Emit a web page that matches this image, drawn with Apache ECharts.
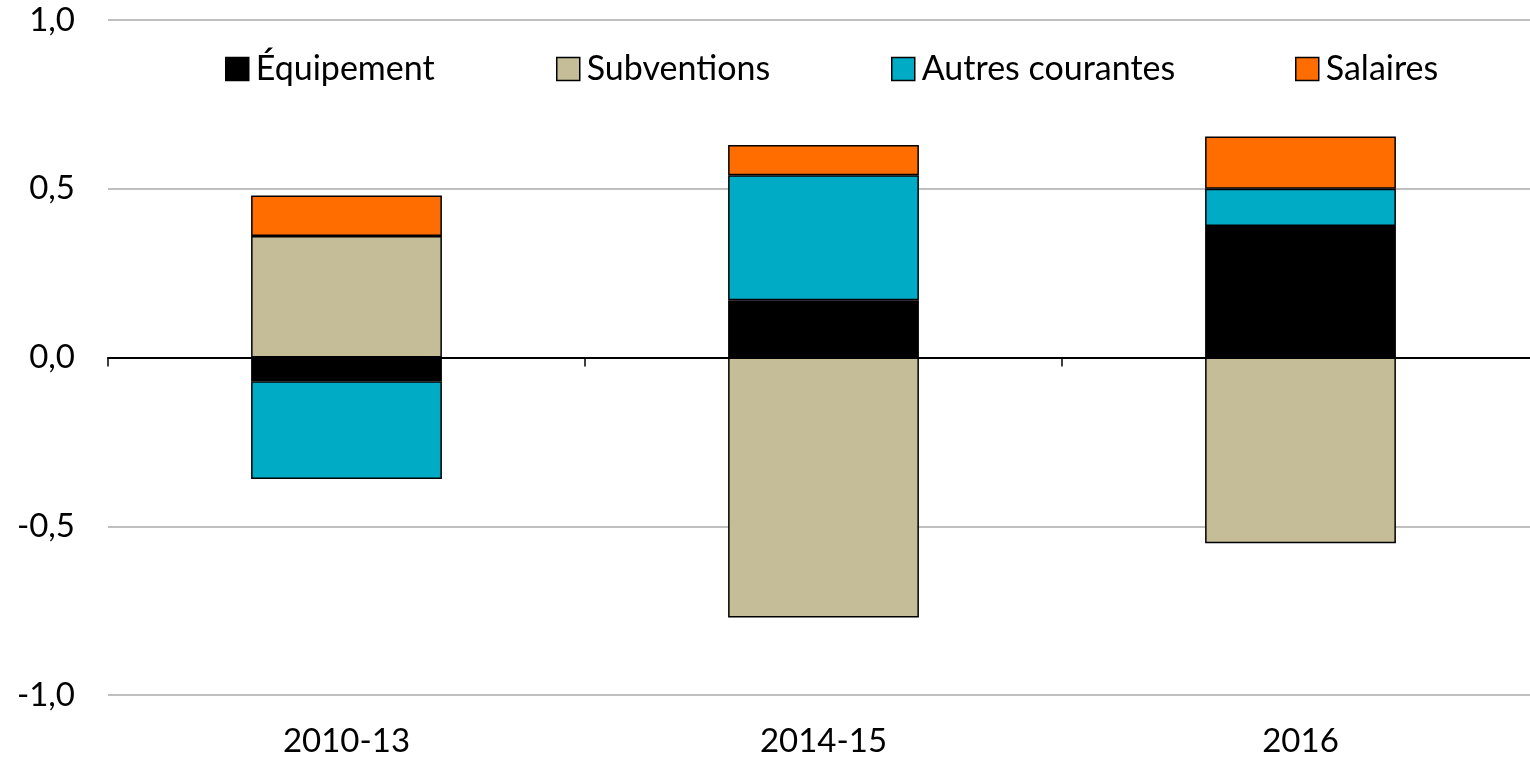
<!DOCTYPE html>
<html>
<head>
<meta charset="utf-8">
<script src="https://cdn.jsdelivr.net/npm/echarts@6/dist/echarts.min.js"></script>
<style>
  html, body { margin: 0; padding: 0; background: #fff; }
  #chart { width: 1530px; height: 762px; }
</style>
</head>
<body>
<div id="chart"></div>
<script>
// categories et valeurs
const categories = ['2010-13', '2014-15', '2016'];
const equipement = [-0.07, 0.17, 0.39];
const subventions = [0.36, -0.77, -0.55];
const autresCourantes = [-0.29, 0.37, 0.11];
const salaires = [0.12, 0.09, 0.155];
const yTicks = [-1, -0.5, 0, 0.5, 1];

const FONT = 'Lato';
const chart = echarts.init(document.getElementById('chart'));

function bar(name, data, color) {
  return {
    name, type: 'bar', stack: 'total', data,
    barWidth: '40%',
    itemStyle: { color, borderColor: '#000', borderWidth: 1.5 }
  };
}

function legendAt(name, left) {
  return {
    data: [name], left, top: 47,
    icon: 'rect', itemWidth: 23, itemHeight: 23, itemGap: 0,
    textStyle: { fontFamily: FONT, fontSize: 34, color: '#000', padding: [0, 0, 0, 2] },
    itemStyle: { borderColor: '#000', borderWidth: 1.5 }
  };
}

chart.setOption({
  animation: false,
  legend: [
    legendAt('Équipement', 220),
    legendAt('Subventions', 551),
    legendAt('Autres courantes', 886),
    legendAt('Salaires', 1290)
  ],
  grid: { left: 108, width: 1431, top: 20, bottom: 67, outerBoundsMode: 'none' },
  xAxis: [{
    type: 'category', data: categories, position: 'bottom',
    axisLine: { show: false, onZero: false },
    axisTick: { show: false },
    axisLabel: { fontFamily: FONT, fontSize: 33, color: '#000', margin: 30 }
  }, {
    type: 'category', data: categories, position: 'top',
    axisLine: { onZero: true, lineStyle: { color: '#000', width: 2 } },
    axisTick: { show: true, inside: true, length: 9, lineStyle: { color: '#000', width: 1.5 } },
    axisLabel: { show: false }
  }],
  yAxis: {
    type: 'value', min: -1, max: 1, interval: 0.5,
    axisLine: { show: false },
    axisTick: { show: false },
    splitLine: { lineStyle: { color: '#bfbfbf', width: 2 } },
    axisLabel: {
      fontFamily: FONT, fontSize: 33, color: '#000', margin: 33,
      formatter: v => yTicks.includes(v) ? v.toFixed(1).replace('.', ',') : ''
    }
  },
  series: [
    bar('Équipement', equipement, '#000000'),
    bar('Subventions', subventions, '#c4bd97'),
    bar('Autres courantes', autresCourantes, '#00abc5'),
    bar('Salaires', salaires, '#ff6d00')
  ]
});
</script>
</body>
</html>
